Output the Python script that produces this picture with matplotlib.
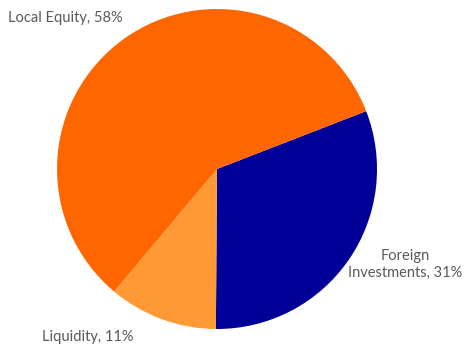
import matplotlib
matplotlib.use("Agg")
import matplotlib.pyplot as plt

categories = ["Foreign\nInvestments", "Liquidity", "Local Equity"]
shares = [31, 11, 58]
colors = ["#000099", "#FF9933", "#FF6600"]
# where each label sits (data units, pie radius = 1)
label_pos = [(1.175, -0.595), (-0.805, -1.05), (-0.945, 0.945)]

fig = plt.figure(figsize=(4.66, 3.47), dpi=100)
ax = fig.add_axes([57 / 466, 18 / 347, 320 / 466, 320 / 347])
ax.pie(shares, colors=colors, startangle=21.2, counterclock=False, radius=1,
       wedgeprops=dict(linewidth=0))
ax.set_xlim(-1, 1)
ax.set_ylim(-1, 1)
ax.set_aspect("auto")
ax.axis("off")

for name, val, (x, y) in zip(categories, shares, label_pos):
    ax.text(x, y, f"{name}, {val}%", ha="center", va="center", fontsize=10.5,
            family="Lato", color="#595959", clip_on=False, linespacing=1.25)

fig.savefig("out.png", dpi=100)
